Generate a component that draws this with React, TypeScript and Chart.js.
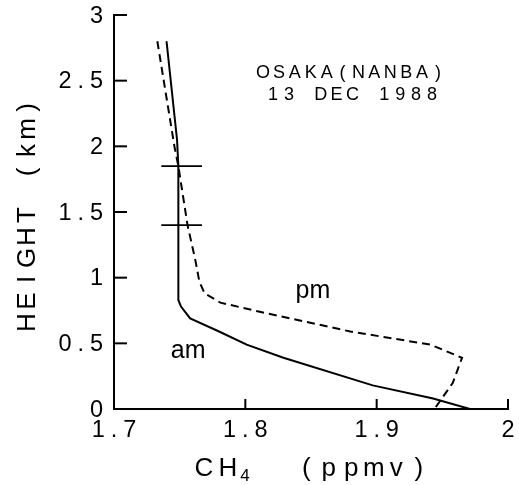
import React, { useEffect, useRef } from "react";
import { Chart, registerables } from "chart.js";

Chart.register(...registerables);

// ---- data ----
const xTickValues = [1.7, 1.8, 1.9, 2.0];
const yTickValues = [0, 0.5, 1, 1.5, 2, 2.5, 3];

const amCH4 = [1.740, 1.748, 1.749, 1.749, 1.749, 1.751, 1.758, 1.780, 1.801, 1.829, 1.897, 1.943, 1.971];
const amHeight = [2.80, 2.05, 1.85, 1.40, 0.83, 0.78, 0.69, 0.59, 0.49, 0.39, 0.18, 0.08, 0.0];

const pmCH4 = [1.733, 1.746, 1.749, 1.756, 1.762, 1.765, 1.769, 1.781, 1.811, 1.880, 1.941, 1.965, 1.958, 1.944];
const pmHeight = [2.80, 2.00, 1.85, 1.40, 1.13, 0.97, 0.88, 0.81, 0.74, 0.59, 0.49, 0.39, 0.20, 0.0];

const markerHeights = [1.85, 1.40];
const markerCH4 = [1.736, 1.767];

const xTitleMain = "CH";
const xTitleSub = "4";
const xTitleUnit = "(ppmv)";
const yTitle = "HEIGHT (km)";
const siteLabel = "OSAKA(NANBA)";
const dateLabel = "13 DEC 1988";
const amLabel = "am";
const pmLabel = "pm";

const FONT = "'Liberation Sans', Arial, sans-serif";

function drawMono(ctx: CanvasRenderingContext2D, text: string, cx: number, baseline: number, cell: number) {
  const start = cx - (text.length * cell) / 2;
  ctx.textAlign = "center";
  ctx.textBaseline = "alphabetic";
  for (let i = 0; i < text.length; i++) {
    ctx.fillText(text[i], start + (i + 0.5) * cell, baseline);
  }
}

function fmt(v: number) {
  return String(Number(v.toFixed(2)));
}

const decorPlugin = {
  id: "decor",
  afterDraw(chart: any) {
    const ctx: CanvasRenderingContext2D = chart.ctx;
    const xs = chart.scales.x;
    const ys = chart.scales.y;
    const area = chart.chartArea;
    ctx.save();
    ctx.strokeStyle = "#000";
    ctx.fillStyle = "#000";
    ctx.lineWidth = 2;

    // inward ticks + labels
    ctx.font = `23.5px ${FONT}`;
    xs.ticks.forEach((t: any) => {
      const px = xs.getPixelForValue(t.value);
      ctx.beginPath();
      ctx.moveTo(px, area.bottom);
      ctx.lineTo(px, area.bottom - 10);
      ctx.stroke();
      drawMono(ctx, fmt(t.value), px, area.bottom + 28, 15.7);
    });
    ys.ticks.forEach((t: any) => {
      const py = ys.getPixelForValue(t.value);
      ctx.beginPath();
      ctx.moveTo(area.left, py);
      ctx.lineTo(area.left + 13, py);
      ctx.stroke();
      const s = fmt(t.value);
      const lastCenter = area.left - 17.5;
      drawMono(ctx, s, lastCenter - ((s.length - 1) * 15.7) / 2, py + 7.5, 15.7);
    });

    // x title
    ctx.font = `26px ${FONT}`;
    drawMono(ctx, xTitleMain, 216, 476, 24);
    ctx.font = `17px ${FONT}`;
    ctx.textAlign = "center";
    ctx.fillText(xTitleSub, 245, 481);
    ctx.font = `26px ${FONT}`;
    drawMono(ctx, xTitleUnit, 362.5, 476, 22.5);

    // y title
    ctx.save();
    ctx.translate(35, 215);
    ctx.rotate(-Math.PI / 2);
    ctx.font = `26px ${FONT}`;
    drawMono(ctx, yTitle, 0, 0, 21.5);
    ctx.restore();

    // annotation
    ctx.font = `18px ${FONT}`;
    drawMono(ctx, siteLabel, 350.5, 78, 15.9);
    drawMono(ctx, dateLabel, 352.5, 100, 15.9);

    // curve labels
    ctx.font = `25px ${FONT}`;
    ctx.textAlign = "center";
    ctx.textBaseline = "alphabetic";
    ctx.fillText(amLabel, xs.getPixelForValue(1.7565), ys.getPixelForValue(0.39));
    ctx.fillText(pmLabel, xs.getPixelForValue(1.8515), ys.getPixelForValue(0.845));
    ctx.restore();
  },
};

export default function App() {
  const ref = useRef<HTMLCanvasElement | null>(null);
  useEffect(() => {
    if (!ref.current) return;
    const toPts = (xs: number[], ys: number[]) => xs.map((x, i) => ({ x, y: ys[i] }));
    const lineBase = {
      showLine: true,
      pointRadius: 0,
      borderColor: "#000",
      backgroundColor: "#000",
      borderWidth: 2,
      tension: 0,
      fill: false,
    };
    const chart = new Chart(ref.current, {
      type: "scatter",
      data: {
        datasets: [
          { ...lineBase, label: "am", data: toPts(amCH4, amHeight) },
          { ...lineBase, label: "pm", data: toPts(pmCH4, pmHeight), borderDash: [8, 5] },
          ...markerHeights.map((h) => ({
            ...lineBase,
            label: "marker",
            borderWidth: 1.8,
            data: toPts(markerCH4, markerCH4.map(() => h)),
          })),
        ],
      },
      options: {
        animation: false,
        responsive: false,
        layout: { padding: { top: 15, right: 11, left: 0, bottom: 0 } },
        plugins: { legend: { display: false }, tooltip: { enabled: false } },
        scales: {
          x: {
            type: "linear",
            min: xTickValues[0],
            max: xTickValues[xTickValues.length - 1],
            afterBuildTicks: (s: any) => {
              s.ticks = xTickValues.map((v) => ({ value: v }));
            },
            ticks: { display: false },
            grid: { display: false },
            border: { display: true, color: "#000", width: 2 },
            afterFit: (s: any) => {
              s.height = 76;
            },
          },
          y: {
            type: "linear",
            min: yTickValues[0],
            max: yTickValues[yTickValues.length - 1],
            afterBuildTicks: (s: any) => {
              s.ticks = yTickValues.map((v) => ({ value: v }));
            },
            ticks: { display: false },
            grid: { display: false },
            border: { display: true, color: "#000", width: 2 },
            afterFit: (s: any) => {
              s.width = 114;
            },
          },
        },
      } as any,
      plugins: [decorPlugin],
    });
    return () => chart.destroy();
  }, []);
  return (
    <div style={{ position: "absolute", left: 0, top: 0, width: 519, height: 485, background: "#fff" }}>
      <canvas ref={ref} width={519} height={485} style={{ display: "block" }} />
    </div>
  );
}
